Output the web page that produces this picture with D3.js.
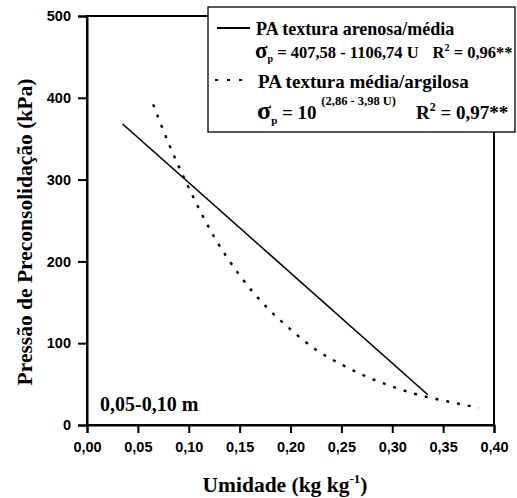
<!DOCTYPE html>
<html>
<head>
<meta charset="utf-8">
<script src="https://cdn.jsdelivr.net/npm/d3@7"></script>
<style>
  body { margin: 0; background: #fff; }
  svg { display: block; }
</style>
</head>
<body>
<script>
// valores
const xTicks = [0, 0.05, 0.10, 0.15, 0.20, 0.25, 0.30, 0.35, 0.40];
const yTicks = [0, 100, 200, 300, 400, 500];

// PA textura arenosa/media (reta)
const arenosaU = [0.035, 0.335];
const arenosaSp = [368, 37];

// PA textura media/argilosa (curva pontilhada)
const argilosaU = [0.065, 0.08, 0.10, 0.125, 0.15, 0.175, 0.20, 0.225, 0.25, 0.275, 0.30, 0.325, 0.35, 0.385];
const argilosaSp = [392, 345, 290, 230, 183, 146, 117, 92, 74, 59, 47, 37, 30, 21];

const W = 517, H = 498;
const margin = { left: 87, top: 16, right: 23, bottom: 73 };
const SERIF = "'Liberation Serif', 'Times New Roman', serif";
const SANS = "'Liberation Sans', Arial, sans-serif";

const svg = d3.select("body").append("svg").attr("width", W).attr("height", H);

const x = d3.scaleLinear().domain([0, 0.40]).range([margin.left, W - margin.right]);
const y = d3.scaleLinear().domain([0, 500]).range([H - margin.bottom, margin.top]);

const fmt = d => d3.format(".2f")(d).replace(".", ",");

// moldura
svg.append("rect")
  .attr("x", x(0)).attr("y", y(500))
  .attr("width", x(0.40) - x(0)).attr("height", y(0) - y(500))
  .attr("fill", "none").attr("stroke", "#000").attr("stroke-width", 2);

const xAxis = svg.append("g")
  .attr("transform", `translate(0,${y(0)})`)
  .call(d3.axisBottom(x).tickValues(xTicks).tickFormat(fmt).tickSize(8).tickPadding(9));
const yAxis = svg.append("g")
  .attr("transform", `translate(${x(0)},0)`)
  .call(d3.axisLeft(y).tickValues(yTicks).tickSize(9).tickPadding(7));
[xAxis, yAxis].forEach(a => {
  a.attr("font-family", SANS).attr("font-size", 14.5).attr("font-weight", "bold");
  a.select(".domain").attr("stroke-width", 2);
  a.selectAll(".tick line").attr("stroke-width", 2);
  a.selectAll(".tick text").attr("fill", "#000");
});

// linhas
const line = d3.line().x(d => x(d[0])).y(d => y(d[1]));
svg.append("path")
  .datum(d3.zip(arenosaU, arenosaSp))
  .attr("d", line)
  .attr("fill", "none").attr("stroke", "#000").attr("stroke-width", 1.6);

svg.append("path")
  .datum(d3.zip(argilosaU, argilosaSp))
  .attr("d", line.curve(d3.curveMonotoneX))
  .attr("fill", "none").attr("stroke", "#000").attr("stroke-width", 2.4)
  .attr("stroke-dasharray", "3,8");

const serifText = (sel, size) => sel.append("text")
  .attr("font-family", SERIF).attr("font-weight", "bold").attr("font-size", size).attr("fill", "#000");

// rotulos dos eixos
serifText(svg, 21.5)
  .attr("transform", `translate(32,232) rotate(-90)`)
  .attr("text-anchor", "middle")
  .text("Pressão de Preconsolidação (kPa)");

const xl = serifText(svg, 21.5)
  .attr("x", 285).attr("y", 492)
  .attr("text-anchor", "middle");
xl.append("tspan").text("Umidade (kg kg");
xl.append("tspan").attr("font-size", 13).attr("dy", -9).text("-1");
xl.append("tspan").attr("dy", 9).text(")");

serifText(svg, 20)
  .attr("x", 100).attr("y", 411)
  .text("0,05-0,10 m");

// legenda
const lg = svg.append("g");
lg.append("rect")
  .attr("x", 208).attr("y", 7).attr("width", 307).attr("height", 125)
  .attr("fill", "#fff").attr("stroke", "#000").attr("stroke-width", 1.3);
lg.append("line").attr("x1", 217).attr("x2", 250).attr("y1", 28).attr("y2", 28)
  .attr("stroke", "#000").attr("stroke-width", 2);
lg.append("line").attr("x1", 215).attr("x2", 250).attr("y1", 80).attr("y2", 80)
  .attr("stroke", "#000").attr("stroke-width", 2).attr("stroke-dasharray", "3,9");

serifText(lg, 18).attr("x", 256).attr("y", 35)
  .text("PA textura arenosa/média");
const e1 = serifText(lg, 16.5).attr("x", 255).attr("y", 58);
e1.append("tspan").attr("font-size", 23).text("σ");
e1.append("tspan").attr("font-size", 10).attr("dy", 4).text("p");
e1.append("tspan").attr("dy", -4).text(" = 407,58 - 1106,74 U");
e1.append("tspan").attr("dx", 14).text("R");
e1.append("tspan").attr("font-size", 10).attr("dy", -7).text("2");
e1.append("tspan").attr("dy", 7).text(" = 0,96**");

serifText(lg, 19).attr("x", 258).attr("y", 88)
  .text("PA textura média/argilosa");
const e2 = serifText(lg, 19).attr("x", 257).attr("y", 119);
e2.append("tspan").attr("font-size", 26).text("σ");
e2.append("tspan").attr("font-size", 11).attr("dy", 5).text("p");
e2.append("tspan").attr("dy", -5).text(" = 10 ");
e2.append("tspan").attr("font-size", 12.5).attr("dy", -14).text("(2,86 - 3,98 U)");
e2.append("tspan").attr("dy", 14).attr("dx", 20).text("R");
e2.append("tspan").attr("font-size", 12).attr("dy", -8).text("2");
e2.append("tspan").attr("dy", 8).text(" = 0,97**");
</script>
</body>
</html>
